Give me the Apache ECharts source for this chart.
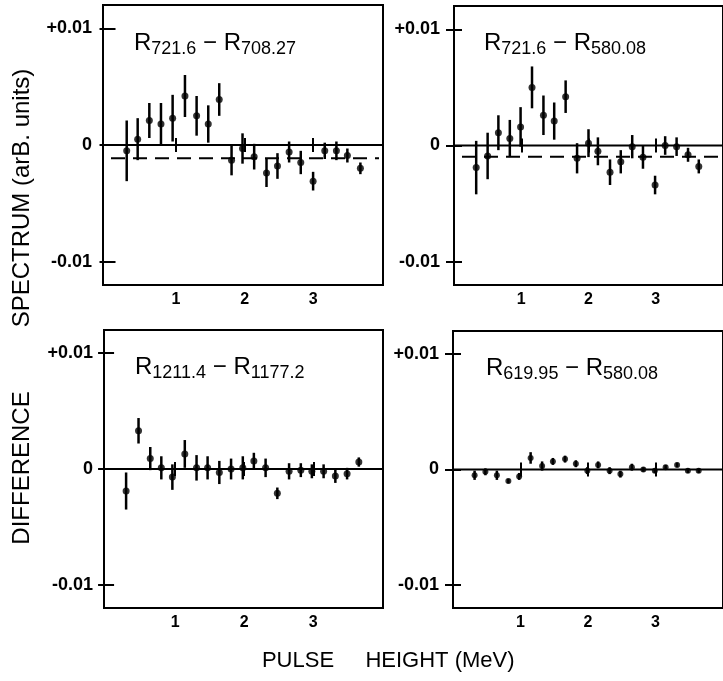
<!DOCTYPE html>
<html><head><meta charset="utf-8">
<script src="https://cdn.jsdelivr.net/npm/echarts@6/dist/echarts.min.js"></script>
<style>html,body{margin:0;padding:0;background:#fff}#c{width:723px;height:681px}</style>
</head><body><div id="c"></div>
<script>
// ---- data ----
const xTicks = [1, 2, 3];
const yTicks = [-0.01, 0, 0.01];

const p1x = [0.28,0.44,0.61,0.78,0.95,1.13,1.30,1.47,1.63,1.81,1.97,2.14,2.32,2.48,2.65,2.82,3.00,3.17,3.34,3.50,3.69];
const p1y = [-0.0005,0.0005,0.0021,0.0018,0.0023,0.0042,0.0025,0.0018,0.0039,-0.0013,-0.0003,-0.0010,-0.0024,-0.0018,-0.0006,-0.0015,-0.0031,-0.0005,-0.0005,-0.0009,-0.0020];
const p1e = [0.0026,0.0018,0.0015,0.0018,0.0020,0.0018,0.0017,0.0016,0.0014,0.0013,0.0013,0.0011,0.0012,0.0011,0.0009,0.0010,0.0008,0.0007,0.0008,0.0006,0.0005];

const p2x = [0.33,0.50,0.66,0.83,0.99,1.16,1.33,1.49,1.66,1.83,2.00,2.14,2.32,2.48,2.65,2.81,2.99,3.14,3.31,3.48,3.64];
const p2y = [-0.0019,-0.0009,0.0011,0.0006,0.0016,0.0050,0.0026,0.0021,0.0042,-0.0011,0.0002,-0.0005,-0.0023,-0.0014,-0.0001,-0.0010,-0.0034,0.0000,-0.0001,-0.0008,-0.0018];
const p2e = [0.0023,0.0020,0.0015,0.0016,0.0017,0.0018,0.0017,0.0016,0.0014,0.0013,0.0012,0.0012,0.0011,0.0010,0.0010,0.0010,0.0008,0.0008,0.0008,0.0006,0.0006];

const p3x = [0.29,0.47,0.64,0.80,0.96,1.14,1.31,1.47,1.64,1.81,1.98,2.14,2.31,2.48,2.65,2.82,2.98,3.15,3.32,3.49,3.66];
const p3y = [-0.0019,0.0033,0.0009,0.0001,-0.0007,0.0013,0.0001,0.0001,-0.0003,0.0000,0.0001,0.0007,0.0001,-0.0021,-0.0002,-0.0001,-0.0002,-0.0002,-0.0006,-0.0004,0.0006];
const p3e = [0.0016,0.0011,0.0010,0.0010,0.0011,0.0012,0.0011,0.0010,0.0010,0.0009,0.0010,0.0007,0.0008,0.0005,0.0007,0.0006,0.0006,0.0006,0.0006,0.0005,0.0004];

const p4x = [0.32,0.48,0.65,0.82,0.98,1.15,1.32,1.48,1.66,1.82,1.99,2.15,2.32,2.48,2.65,2.82,2.99,3.15,3.32,3.48,3.64];
const p4y = [-0.0005,-0.0002,-0.0005,-0.0010,-0.0006,0.0010,0.0003,0.0007,0.0009,0.0005,-0.0001,0.0004,-0.0001,-0.0004,0.0002,0.0000,-0.0001,0.0002,0.0004,-0.0001,-0.0001];
const p4e = [0.0004,0.0003,0.0004,0.0002,0.0003,0.0005,0.0004,0.0003,0.0003,0.0003,0.0003,0.0003,0.0003,0.0003,0.0003,0.0002,0.0002,0.0002,0.0002,0.0002,0.0002];

const zeroLevel = 0;
const dashedLevels = [-0.00114, -0.00097, null, null];
const panelLabels = [
  ['721.6', '708.27'],
  ['721.6', '580.08'],
  ['1211.4', '1177.2'],
  ['619.95', '580.08']
];
const yTitleUpper = 'SPECTRUM (arB. units)';
const yTitleLower = 'DIFFERENCE';
const xTitleA = 'PULSE';
const xTitleB = 'HEIGHT (MeV)';

// ---- layout ----
const FONT = 'Liberation Sans';
const panels = [
  {left:103, top:5,   width:280, height:280, xmin:-0.066, xmax:4.02, xs:p1x, ys:p1y, es:p1e, lx:134, ly:31},
  {left:454, top:6,   width:280, height:279, xmin:0,      xmax:4.0,  xs:p2x, ys:p2y, es:p2e, lx:484, ly:31},
  {left:104, top:330, width:279, height:278, xmin:-0.03,  xmax:4.01, xs:p3x, ys:p3y, es:p3e, lx:135, ly:355},
  {left:453, top:331, width:280, height:277, xmin:0,      xmax:4.0,  xs:p4x, ys:p4y, es:p4e, lx:486, ly:356}
];

const grid = [], xAxis = [], yAxis = [], series = [], graphic = [];
const tickStyle = {color:'#000', width:2};
const yFmt = v => (v > 1e-9 ? '+0.01' : (v < -1e-9 ? '-0.01' : '0'));

panels.forEach((p, i) => {
  grid.push({left:p.left, top:p.top, width:p.width, height:p.height, show:true,
    borderColor:'#000', borderWidth:2, backgroundColor:'transparent'});
  xAxis.push({gridIndex:i, type:'value', min:p.xmin, max:p.xmax,
    axisLine:{show:false}, splitLine:{show:false},
    axisTick:{show:true, inside:true, length:7, customValues:xTicks, lineStyle:tickStyle},
    axisLabel:{show:true, customValues:xTicks, margin:7, color:'#000', fontSize:16,
      fontWeight:'bold', fontFamily:FONT}});
  xAxis.push({gridIndex:i, type:'value', position:'top', min:p.xmin, max:p.xmax,
    axisLine:{show:false}, splitLine:{show:false},
    axisTick:{show:true, inside:true, length:7, customValues:xTicks, lineStyle:tickStyle},
    axisLabel:{show:false}});
  yAxis.push({gridIndex:i, type:'value', min:-0.012, max:0.012,
    axisLine:{show:false}, splitLine:{show:false},
    axisTick:{show:true, inside:true, length:8, customValues:yTicks, lineStyle:tickStyle},
    axisLabel:{show:true, customValues:yTicks, formatter:yFmt, margin: i % 2 ? 14 : 11,
      color:'#000', fontSize:18, fontWeight:'bold', fontFamily:FONT}});
  yAxis.push({gridIndex:i, type:'value', position:'right', min:-0.012, max:0.012,
    axisLine:{show:false}, splitLine:{show:false},
    axisTick:{show:true, inside:true, length:8, customValues:yTicks, lineStyle:tickStyle},
    axisLabel:{show:false}});

  const xi = 2*i, yi = 2*i;

  // reference lines (solid zero line, dashed level) spanning the panel
  const levels = [[zeroLevel, 0]];
  if (dashedLevels[i] !== null) levels.push([dashedLevels[i], 1]);
  series.push({type:'custom', xAxisIndex:xi, yAxisIndex:yi, silent:true, animation:false,
    data: levels, encode:{y:0},
    renderItem: (params, api) => {
      const cs = params.coordSys;
      const y = api.coord([p.xmin, api.value(0)])[1];
      const dashed = api.value(1) === 1;
      const x1 = dashed ? cs.x + 8 : cs.x;
      const x2 = dashed ? cs.x + cs.width - 4 : cs.x + cs.width;
      return {type:'line', shape:{x1:x1, y1:y, x2:x2, y2:y},
        style:{stroke:'#000', lineWidth:2, lineDash: dashed ? [14, 8] : null}};
    }});

  series.push({type:'custom', xAxisIndex:xi, yAxisIndex:yi, silent:true, animation:false,
    data: p.xs.map((x, k) => [x, p.ys[k] - p.es[k], p.ys[k] + p.es[k]]),
    encode:{x:0, y:[1,2]},
    renderItem: (params, api) => {
      const a = api.coord([api.value(0), api.value(1)]);
      const b = api.coord([api.value(0), api.value(2)]);
      return {type:'line', shape:{x1:a[0], y1:a[1], x2:b[0], y2:b[1]},
        style:{stroke:'#000', lineWidth:2.5}};
    }});
  series.push({type:'scatter', xAxisIndex:xi, yAxisIndex:yi, silent:true, animation:false,
    symbol:'circle', symbolSize: i === 3 ? 6 : 7, itemStyle:{color:'#000'},
    data: p.xs.map((x, k) => [x, p.ys[k]])});

  const [s1, s2] = panelLabels[i];
  graphic.push({type:'text', left:p.lx, top:p.ly, silent:true,
    style:{text:'{r|R}{s|' + s1 + '}{r| \u2212 R}{s|' + s2 + '}', fill:'#000',
      rich:{
        r:{fontSize:24, fontFamily:FONT, lineHeight:30, fill:'#000'},
        s:{fontSize:18, fontFamily:FONT, lineHeight:18, verticalAlign:'bottom', fill:'#000'}
      }}});
});

graphic.push({type:'text', x:22, y:198, rotation:Math.PI/2, silent:true,
  style:{text:yTitleUpper, fontSize:24, fontFamily:FONT, fill:'#000', align:'center', verticalAlign:'middle'}});
graphic.push({type:'text', x:22, y:468, rotation:Math.PI/2, silent:true,
  style:{text:yTitleLower, fontSize:24, fontFamily:FONT, fill:'#000', align:'center', verticalAlign:'middle'}});
graphic.push({type:'text', x:298, y:661, silent:true,
  style:{text:xTitleA, fontSize:22, fontFamily:FONT, fill:'#000', align:'center', verticalAlign:'middle'}});
graphic.push({type:'text', x:440, y:661, silent:true,
  style:{text:xTitleB, fontSize:22, fontFamily:FONT, fill:'#000', align:'center', verticalAlign:'middle'}});

const chart = echarts.init(document.getElementById('c'), null, {renderer:'canvas'});
chart.setOption({backgroundColor:'#fff', animation:false, grid, xAxis, yAxis, series, graphic});
</script></body></html>
